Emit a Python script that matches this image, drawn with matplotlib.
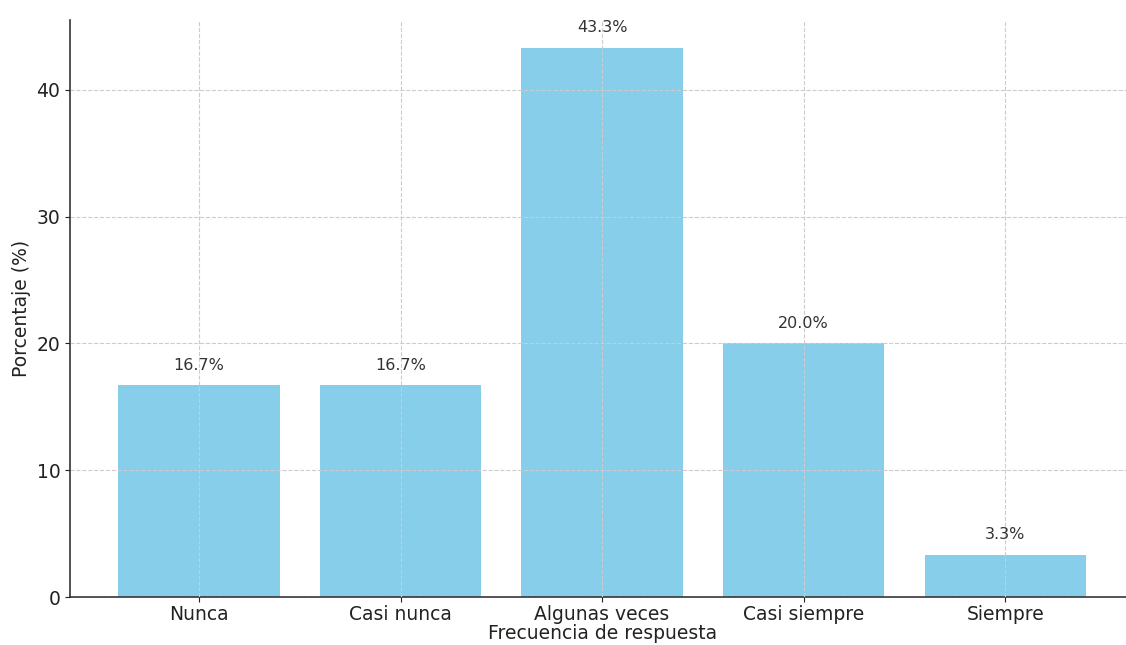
import matplotlib.pyplot as plt

categories = ["Nunca", "Casi nunca", "Algunas veces", "Casi siempre", "Siempre"]
percentages = [16.7, 16.7, 43.3, 20.0, 3.3]

fig = plt.figure(figsize=(11.26, 6.45), dpi=100)
ax = fig.add_axes([0.0622, 0.0744, 0.945, 0.8946])

ax.bar(categories, percentages, color="skyblue", width=0.8, zorder=2)
for i, v in enumerate(percentages):
    ax.text(i, v + 1.0, f"{v:.1f}%", ha="center", va="bottom",
            fontsize=11.5, color="#333333", zorder=3)

ax.set_ylim(0, 45.5)
ax.set_xlabel("Frecuencia de respuesta", fontsize=13.5, color="#222222", labelpad=0)
ax.set_ylabel("Porcentaje (%)", fontsize=13.5, color="#222222")
ax.tick_params(labelsize=13.5, colors="#222222")
ax.tick_params(axis="x", pad=2)
ax.grid(True, linestyle="--", color="#cccccc", linewidth=0.8, zorder=0)
ax.set_axisbelow(False)
for s in ["top", "right"]:
    ax.spines[s].set_visible(False)
ax.spines["left"].set_color("#333333")
ax.spines["bottom"].set_color("#333333")
ax.spines["left"].set_linewidth(1.2)
ax.spines["bottom"].set_linewidth(1.2)

fig.savefig("out.png", dpi=100)
